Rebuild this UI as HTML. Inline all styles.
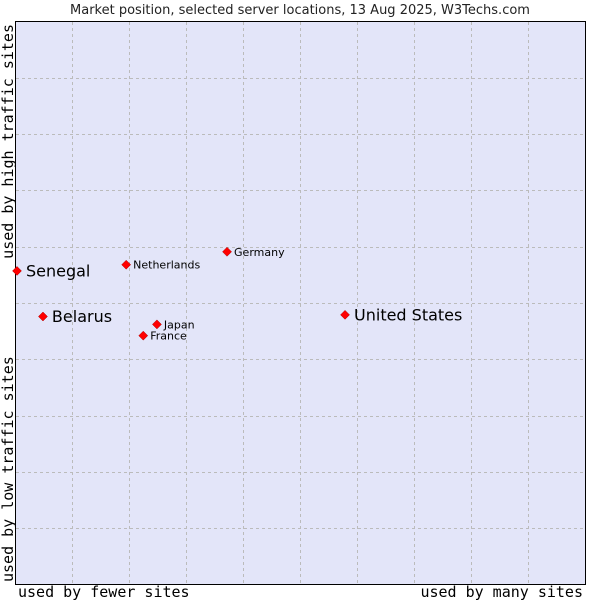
<!DOCTYPE html>
<html><head><meta charset="utf-8"><style>
body{margin:0;background:#fff;}
svg text{font-family:"DejaVu Sans","Liberation Sans",sans-serif;}
.mono{font-family:"DejaVu Sans Mono","Liberation Mono",monospace;}
</style></head><body>
<svg id="chart" width="600" height="600" xmlns="http://www.w3.org/2000/svg">
<text x="300" y="14" text-anchor="middle" font-size="13" fill="#222">Market position, selected server locations, 13 Aug 2025, W3Techs.com</text>
<rect x="15.5" y="21.5" width="570" height="563" fill="#e3e5f9" stroke="#000" stroke-width="1"/>
<g id="grid"></g>
<g id="points"></g>
<text class="mono" x="18" y="597" font-size="15" fill="#000">used by fewer sites</text>
<text class="mono" x="583" y="597" text-anchor="end" font-size="15" fill="#000">used by many sites</text>
<text class="mono" transform="translate(13,24) rotate(-90)" text-anchor="end" font-size="15" fill="#000">used by high traffic sites</text>
<text class="mono" transform="translate(13,582) rotate(-90)" font-size="15" fill="#000">used by low traffic sites</text>
</svg>
<script>
const names=["Senegal","Belarus","Netherlands","Germany","Japan","France","United States"];
const xVals=[0.35,4.9,19.5,37.2,24.9,22.5,57.9];
const yVals=[55.7,47.6,56.8,59.1,46.2,44.2,47.9];
const big=[true,true,false,false,false,false,true];
const L=15,T=21.5,W=570,H=563;
const sx=v=>L+v/100*W, sy=v=>T+H-v/100*H;
const NS="http://www.w3.org/2000/svg";
const grid=document.getElementById('grid'), pts=document.getElementById('points');
for(let i=1;i<10;i++){
  let l=document.createElementNS(NS,'line');
  
  
  const x=Math.round(sx(i*10))+0.5;
  l.setAttribute('x1',x);l.setAttribute('x2',x);l.setAttribute('y1',22);l.setAttribute('y2',584);
  l.setAttribute('stroke','#bbb');l.setAttribute('stroke-dasharray','3,3');grid.appendChild(l);
  let h=document.createElementNS(NS,'line');
  
  
  const y=Math.round(sy(i*10))+0.5;
  h.setAttribute('x1',16);h.setAttribute('x2',585);h.setAttribute('y1',y);h.setAttribute('y2',y);
  h.setAttribute('stroke','#bbb');h.setAttribute('stroke-dasharray','3,3');grid.appendChild(h);
}
names.forEach((n,i)=>{
  const x=sx(xVals[i]),y=sy(yVals[i]);
  const p=document.createElementNS(NS,'path');
  
  
  p.setAttribute('d',`M${x-4.5},${y} L${x},${y-4.5} L${x+4.5},${y} L${x},${y+4.5} Z`);
  p.setAttribute('fill','#f00');p.setAttribute('stroke','#a00');p.setAttribute('stroke-width','0.5');
  pts.appendChild(p);
  const t=document.createElementNS(NS,'text');
  
  
  t.setAttribute('x',x+(big[i]?9:7));t.setAttribute('y',y+(big[i]?5.5:4));
  t.setAttribute('font-size',big[i]?16:11);t.setAttribute('fill','#000');
  t.textContent=n;pts.appendChild(t);
});
</script>
</body></html>
